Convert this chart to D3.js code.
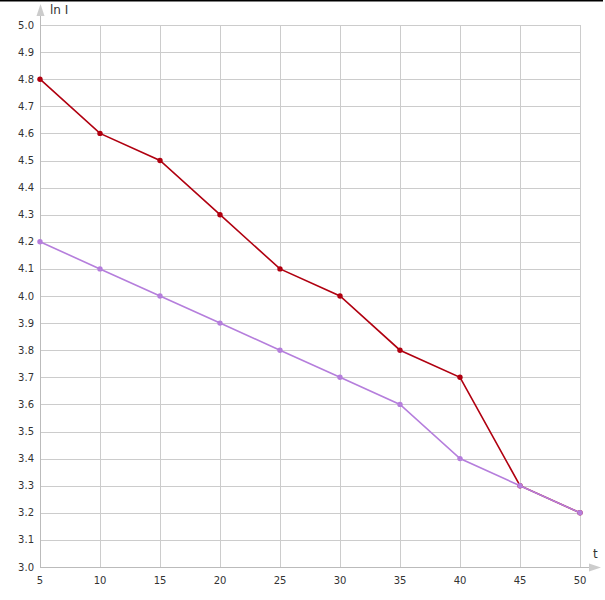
<!DOCTYPE html>
<html>
<head>
<meta charset="utf-8">
<script src="https://cdn.jsdelivr.net/npm/d3@7"></script>
<style>
  body { margin: 0; background: white; }
  text { font-family: "DejaVu Sans", sans-serif; font-size: 10px; fill: #333; }
</style>
</head>
<body>
<svg id="chart" width="605" height="600"></svg>
<script>
////////////////////////////////////////////////////////////////////////////////////
// Data
var tValues = [5, 10, 15, 20, 25, 30, 35, 40, 45, 50];
var redSeries = [4.8, 4.6, 4.5, 4.3, 4.1, 4.0, 3.8, 3.7, 3.3, 3.2];
var purpleSeries = [4.2, 4.1, 4.0, 3.9, 3.8, 3.7, 3.6, 3.4, 3.3, 3.2];
var yTicks = [3.0, 3.1, 3.2, 3.3, 3.4, 3.5, 3.6, 3.7, 3.8, 3.9, 4.0, 4.1, 4.2, 4.3, 4.4, 4.5, 4.6, 4.7, 4.8, 4.9, 5.0];

var red = "#b00010";
var purple = "#b57edc";
var gridColor = "#cccccc";

////////////////////////////////////////////////////////////////////////////////////
// Scales
var svg = d3.select("#chart");
var plotLeft = 40, plotRight = 580, plotTop = 25, plotBottom = 567;

var xScale = d3.scaleLinear().domain([5, 50]).range([plotLeft, plotRight]);
var yScale = d3.scaleLinear().domain([3.0, 5.0]).range([plotBottom, plotTop]);

// black line at the very top
svg.append("line")
   .attr("x1", 0).attr("x2", 603)
   .attr("y1", 0.75).attr("y2", 0.75)
   .style("stroke", "#000")
   .style("stroke-width", 1.5);

////////////////////////////////////////////////////////////////////////////////////
// Grid
svg.append("g")
   .selectAll("line")
   .data(yTicks)
   .enter()
   .append("line")
   .attr("x1", plotLeft).attr("x2", plotRight)
   .attr("y1", function(d) { return Math.round(yScale(d)) + 0.5; })
   .attr("y2", function(d) { return Math.round(yScale(d)) + 0.5; })
   .style("stroke", gridColor);

svg.append("g")
   .selectAll("line")
   .data(tValues)
   .enter()
   .append("line")
   .attr("x1", function(d) { return Math.round(xScale(d)) + 0.5; })
   .attr("x2", function(d) { return Math.round(xScale(d)) + 0.5; })
   .attr("y1", plotTop).attr("y2", plotBottom)
   .style("stroke", gridColor);

////////////////////////////////////////////////////////////////////////////////////
// Axes with arrows
svg.append("line")
   .attr("x1", plotLeft + 0.5).attr("x2", plotLeft + 0.5)
   .attr("y1", plotBottom).attr("y2", 12)
   .style("stroke", "#bbbbbb");
svg.append("path")
   .attr("d", "M" + (plotLeft + 0.5) + ",4 L" + (plotLeft - 3.5) + ",16 L" + (plotLeft + 4.5) + ",16 Z")
   .style("fill", "#cccccc");

svg.append("line")
   .attr("x1", plotLeft).attr("x2", 590)
   .attr("y1", plotBottom + 0.5).attr("y2", plotBottom + 0.5)
   .style("stroke", "#bbbbbb");
svg.append("path")
   .attr("d", "M601," + (plotBottom + 0.5) + " L589," + (plotBottom - 3.5) + " L589," + (plotBottom + 4.5) + " Z")
   .style("fill", "#cccccc");

// tick labels
svg.append("g")
   .selectAll("text")
   .data(yTicks)
   .enter()
   .append("text")
   .attr("x", 34)
   .attr("y", function(d) { return yScale(d) + 3.5; })
   .attr("text-anchor", "end")
   .text(function(d) { return d.toFixed(1); });

svg.append("g")
   .selectAll("text")
   .data(tValues)
   .enter()
   .append("text")
   .attr("x", function(d) { return xScale(d); })
   .attr("y", 584)
   .attr("text-anchor", "middle")
   .text(function(d) { return d; });

// axis titles
svg.append("text").attr("x", 50).attr("y", 14).style("font-size", "12px").text("ln I");
svg.append("text").attr("x", 593).attr("y", 558).style("font-size", "12px").text("t");

////////////////////////////////////////////////////////////////////////////////////
// Series
function plotSeries(values, color) {
  var pts = tValues.map(function(t, i) { return [t, values[i]]; });
  var line = d3.line()
               .x(function(d) { return xScale(d[0]); })
               .y(function(d) { return yScale(d[1]); });
  svg.append("path")
     .datum(pts)
     .attr("d", line)
     .style("fill", "none")
     .style("stroke", color)
     .style("stroke-width", 1.6);
  svg.append("g")
     .selectAll("circle")
     .data(pts)
     .enter()
     .append("circle")
     .attr("cx", function(d) { return xScale(d[0]); })
     .attr("cy", function(d) { return yScale(d[1]); })
     .attr("r", 2.7)
     .style("fill", color);
}; // end plotSeries

// purple sits on top where the two meet
plotSeries(redSeries, red);
plotSeries(purpleSeries, purple);
</script>
</body>
</html>
